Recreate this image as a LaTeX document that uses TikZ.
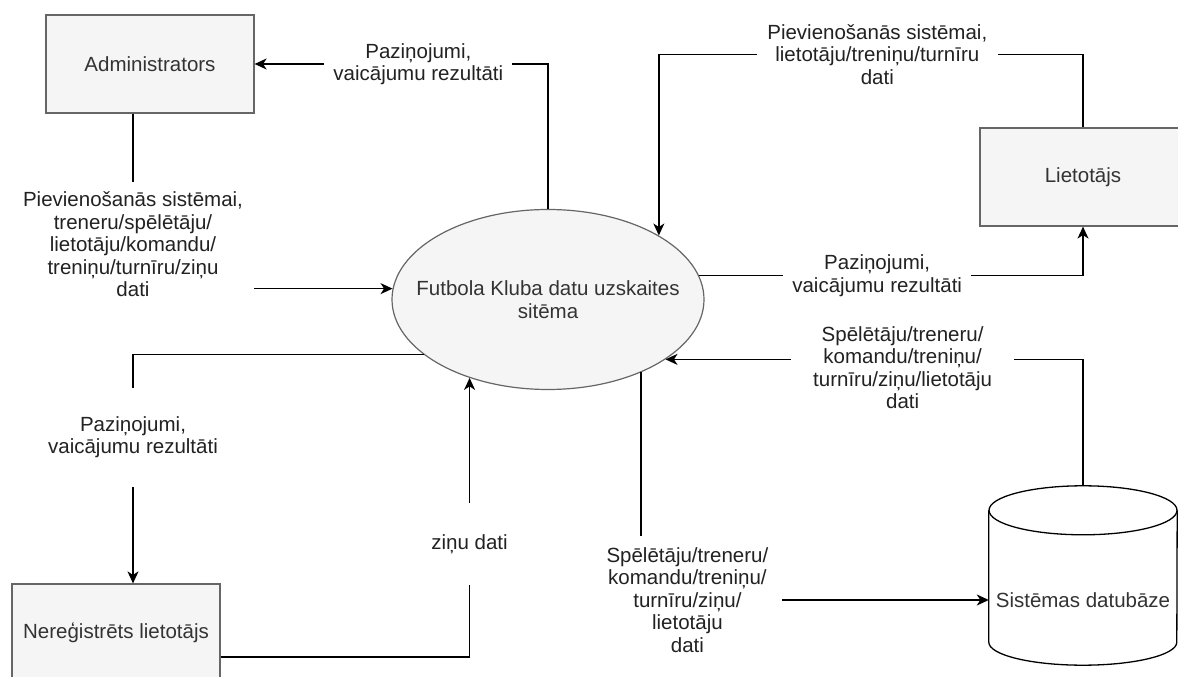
\documentclass[tikz,border=0pt]{standalone}
\usepackage{fontspec}
\setmainfont{Liberation Sans}
\usetikzlibrary{arrows.meta,shapes.geometric}
\definecolor{boxfill}{HTML}{F5F5F5}
\definecolor{boxline}{HTML}{666666}
\definecolor{boxtext}{HTML}{333333}
\definecolor{edgetext}{HTML}{222222}

\begin{document}
\begin{tikzpicture}[x=1pt,y=1pt,
  every node/.style={font=\fontsize{20.5}{22.5}\selectfont},
  entity/.style={draw=boxline, fill=boxfill, line width=1.2pt, text=boxtext,
    minimum width=208pt, minimum height=98pt, inner sep=0pt},
  process/.style={ellipse, draw=boxline, fill=boxfill, line width=1.2pt, text=boxtext,
    align=center, minimum width=312pt, minimum height=180pt, inner xsep=-25pt, inner ysep=0pt},
  store/.style={text=boxtext, minimum width=188pt, minimum height=130pt, inner sep=0pt},
  cylline/.style={draw=black, line width=1.3pt},
  flow/.style={draw=black, line width=1.5pt, -{Stealth[length=12pt,width=11pt,inset=3.5pt]}},
  lbl/.style={fill=white, text=edgetext, align=center, inner xsep=9pt, inner ysep=10pt},
]
\useasboundingbox (0,0) rectangle (1178,677);
\fill[white] (0,0) rectangle (1178,677);
\clip (0,0) rectangle (1178,677);

% external entities
\node[entity] (admin) at (150,613) {Administrators};
\node[entity, minimum width=206pt] (liet) at (1083,500) {Lietotājs};
\node[entity] (nereg) at (116,44) {Nereģistrēts lietotājs};

% the system process
\node[process] (sys) at (548,377.5) {Futbola Kluba datu uzskaites\\sitēma};

% data store (cylinder)
\node[store] (db) at (1083,77) {Sistēmas datubāze};
\coordinate (dbtop) at ([yshift=49pt]db.north);
\draw[cylline] ([yshift=24.5pt]db.north west) -- ([yshift=23pt]db.south west)
  arc[start angle=180, end angle=360, x radius=94pt, y radius=23pt]
  -- ([yshift=24.5pt]db.north east);
\draw[cylline] ([yshift=24.5pt]db.north) ellipse[x radius=94pt, y radius=24.5pt];

% data flows
\draw[flow] (sys.north) |- node[lbl, pos=0.721] {Paziņojumi,\\vaicājumu rezultāti} (admin.east);

\draw[flow] ([xshift=-17pt]admin.south) |- node[lbl, pos=0.373, inner xsep=11pt]
  {Pievienošanās sistēmai,\\treneru/spēlētāju/\\lietotāju/komandu/\\treniņu/turnīru/ziņu\\dati} (sys.176);

\draw[flow] (liet.north) -- ++(0,73) -| node[lbl, pos=0.2425, inner xsep=10.5pt]
  {Pievienošanās sistēmai,\\lietotāju/treniņu/turnīru\\dati} (sys.30);

\draw[flow] (sys.9) -| node[lbl, pos=0.232] {Paziņojumi,\\vaicājumu rezultāti} (liet.south);

\draw[flow] (dbtop) |- node[lbl, pos=0.716, yshift=-8.5pt, inner xsep=22pt]
  {Spēlētāju/treneru/\\komandu/treniņu/\\turnīru/ziņu/lietotāju\\dati} (sys.333.7);

\draw[flow] (sys.322) |- node[lbl, pos=0.5665, inner xsep=14pt, inner ysep=11pt]
  {Spēlētāju/treneru/\\komandu/treniņu/\\turnīru/ziņu/\\lietotāju\\dati} (db.west);

\draw[flow] (sys.204.3) -| node[lbl, pos=0.680, minimum height=99pt]
  {Paziņojumi,\\vaicājumu rezultāti} ([xshift=17pt]nereg.north);

\draw[flow] ([yshift=-24pt]nereg.east) -| node[lbl, pos=0.702, minimum height=82pt]
  {ziņu dati} (sys.225);
\end{tikzpicture}
\end{document}
